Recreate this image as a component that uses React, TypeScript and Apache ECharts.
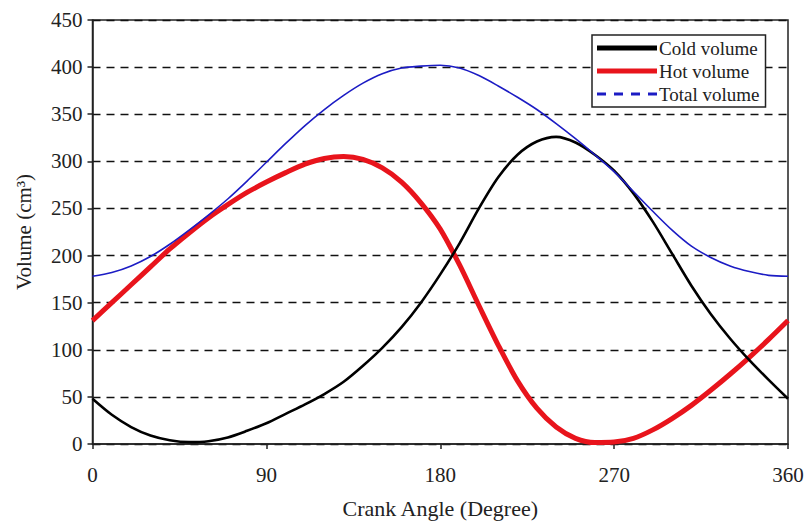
import React, { useEffect, useRef } from "react";
import * as echarts from "echarts";

const angles = [0, 10, 20, 30, 40, 50, 60, 70, 80, 90, 100, 110, 120, 130, 140, 150, 160, 170, 180, 190, 200, 210, 220, 230, 240, 250, 260, 270, 280, 290, 300, 310, 320, 330, 340, 350, 360];

const coldVolume = [48, 31, 18, 9, 4, 2, 3, 7, 14, 22, 32, 42, 53, 66, 83, 102, 124, 150, 180, 213, 250, 283, 307, 321, 326, 320, 307, 290, 266, 236, 202, 168, 138, 112, 89, 68, 48];

const hotVolume = [131, 150, 169, 188, 207, 224, 240, 254, 267, 278, 288, 297, 303, 305, 302, 293, 278, 256, 228, 190, 147, 105, 67, 38, 18, 6, 1.5, 2, 6, 15, 27, 41, 57, 74, 92, 111, 131];

const totalVolume = [178, 182, 189, 199, 212, 227, 243, 260, 279, 299, 319, 338, 355, 370, 383, 393, 399, 401, 402, 399, 391, 380, 368, 355, 340, 324, 307, 289, 268, 247, 227, 210, 198, 189, 183, 179, 178];

const xTicks = [0, 90, 180, 270, 360];
const yTicks = [0, 50, 100, 150, 200, 250, 300, 350, 400, 450];

const FONT = "'Liberation Serif', 'Times New Roman', serif";
const DASH_ICON = "path://M0,0 L9,0 L9,3 L0,3 Z M17,0 L26,0 L26,3 L17,3 Z M34,0 L43,0 L43,3 L34,3 Z M51,0 L60,0 L60,3 L51,3 Z";
const SOLID_ICON = "path://M0,0 L60,0 L60,5 L0,5 Z";

export default function App() {
  const ref = useRef<HTMLDivElement>(null);
  useEffect(() => {
    if (!ref.current) return;
    const chart = echarts.init(ref.current, undefined, { renderer: "svg" });
    const pairs = (vals: number[]) => angles.map((a, i) => [a, vals[i]]);
    chart.setOption({
      animation: false,
      backgroundColor: "#fff",
      textStyle: { fontFamily: FONT },
      grid: {
        left: 92.5,
        right: 21,
        top: 20,
        bottom: 77,
        outerBoundsMode: "none",
        containLabel: false,
        show: true,
        borderColor: "#222",
        borderWidth: 1.5,
        backgroundColor: "transparent",
      },
      legend: {
        orient: "vertical",
        left: 592,
        top: 35,
        width: 180,
        padding: [3, 6, 3, 5],
        itemGap: 3,
        itemWidth: 60,
        itemHeight: 10,
        borderColor: "#222",
        borderWidth: 1.5,
        backgroundColor: "#fff",
        textStyle: { fontFamily: FONT, fontSize: 19, color: "#222", padding: [0, 0, 0, -3], lineHeight: 20 },
        data: [
          { name: "Cold volume", icon: SOLID_ICON, itemStyle: { color: "#000" } },
          { name: "Hot volume", icon: SOLID_ICON, itemStyle: { color: "#e8141c" } },
          { name: "Total volume", icon: DASH_ICON, itemStyle: { color: "#1c1cc4" } },
        ],
      },
      xAxis: {
        type: "value",
        min: 0,
        max: 360,
        interval: 90,
        name: "Crank Angle (Degree)",
        nameLocation: "middle",
        nameGap: 53,
        nameTextStyle: { fontFamily: FONT, fontSize: 22, color: "#222", verticalAlign: "top" },
        axisLine: { show: true, lineStyle: { color: "#222", width: 1.5 } },
        axisTick: { show: true, length: 5, lineStyle: { color: "#222", width: 1.5 } },
        axisLabel: { fontFamily: FONT, fontSize: 21, color: "#222", margin: 20, formatter: (v: number) => (xTicks.includes(v) ? String(v) : "") },
        splitLine: { show: false },
      },
      yAxis: {
        type: "value",
        min: 0,
        max: 450,
        interval: 50,
        name: "Volume (cm³)",
        nameLocation: "middle",
        nameGap: 58,
        nameTextStyle: { fontFamily: FONT, fontSize: 21, color: "#222" },
        axisLine: { show: true, lineStyle: { color: "#222", width: 1.5 } },
        axisTick: { show: true, length: 5, lineStyle: { color: "#222", width: 1.5 } },
        axisLabel: { fontFamily: FONT, fontSize: 21, color: "#222", margin: 10, formatter: (v: number) => (yTicks.includes(v) ? String(v) : "") },
        splitLine: { show: true, lineStyle: { color: "#111", width: 1.3, type: [8, 6] } },
      },
      series: [
        {
          name: "Cold volume",
          type: "line",
          data: pairs(coldVolume),
          smooth: 0.3,
          symbol: "none",
          lineStyle: { color: "#000", width: 2.6 },
          itemStyle: { color: "#000" },
          z: 3,
        },
        {
          name: "Hot volume",
          type: "line",
          data: pairs(hotVolume),
          smooth: 0.3,
          symbol: "none",
          lineStyle: { color: "#e8141c", width: 5 },
          itemStyle: { color: "#e8141c" },
          z: 2,
        },
        {
          name: "Total volume",
          type: "line",
          data: pairs(totalVolume),
          smooth: 0.3,
          symbol: "none",
          lineStyle: { color: "#1c1cc4", width: 1.6 },
          itemStyle: { color: "#1c1cc4" },
          z: 4,
        },
      ],
    });
    return () => chart.dispose();
  }, []);
  return <div ref={ref} style={{ width: 809, height: 521, position: "absolute", left: 0, top: 0 }} />;
}
